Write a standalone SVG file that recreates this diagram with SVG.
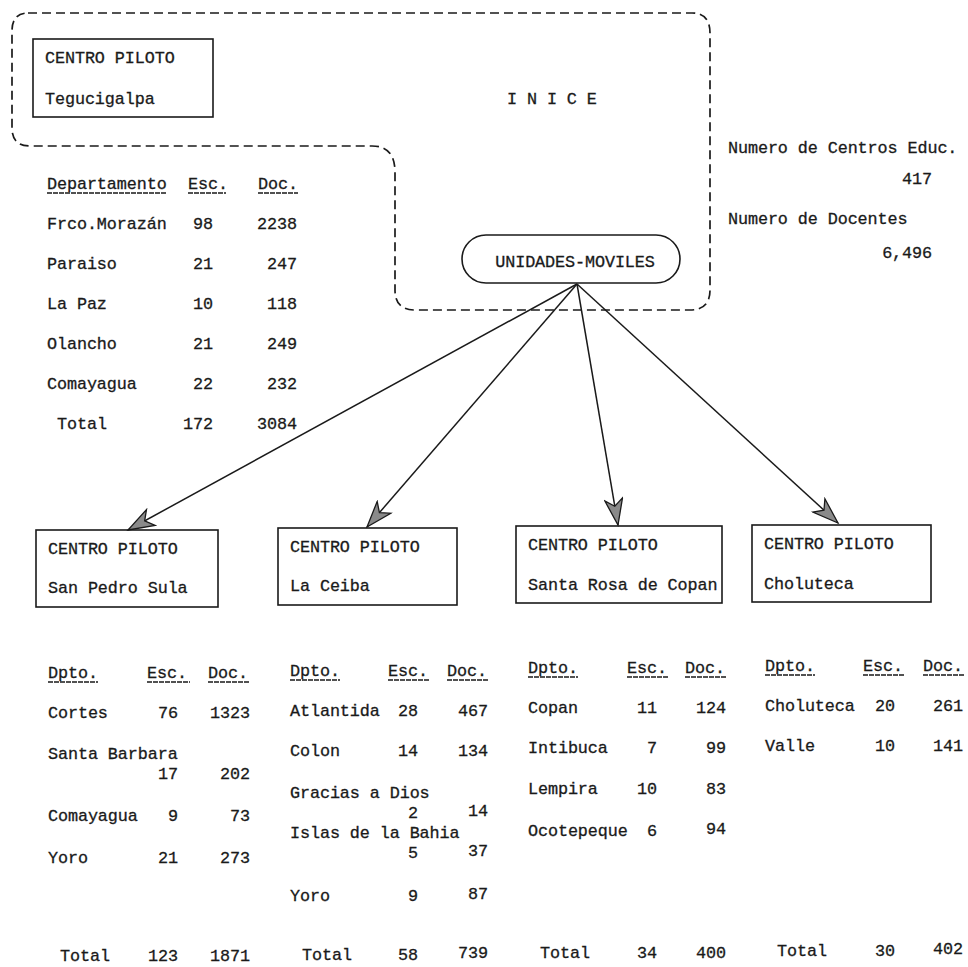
<svg xmlns="http://www.w3.org/2000/svg" width="968" height="967" viewBox="0 0 968 967">
<defs>
<style>
text{font-family:"Liberation Mono","DejaVu Sans Mono",monospace;font-size:16.8px;letter-spacing:-0.1px;fill:#1a1a1a;stroke:#1a1a1a;stroke-width:0.3}
.e{text-anchor:end}
.box{fill:none;stroke:#1a1a1a;stroke-width:1.6}
.dash{fill:none;stroke:#1a1a1a;stroke-width:1.7;stroke-dasharray:9 5}
.ul{stroke:#1a1a1a;stroke-width:1.3;stroke-dasharray:5 1}
.conn{stroke:#1a1a1a;stroke-width:1.5;fill:none}
</style>
<marker id="ah" viewBox="-28 -10 30 20" refX="0" refY="0" markerWidth="30" markerHeight="20" markerUnits="userSpaceOnUse" orient="auto">
<path d="M0,0 L-26,-9 L-19,0 L-26,9 Z" fill="#8a8a8a" stroke="#1a1a1a" stroke-width="1.3"/>
</marker>
</defs>
<rect width="968" height="967" fill="#ffffff"/>

<g id="inice">
<path class="dash" d="M28,13 L692,13 Q710,13 710,33 L710,290 Q710,310 690,310 L415,310 Q395,310 395,290 L395,172 Q395,146 372,146 L30,146 Q12,146 12,128 L12,31 Q12,13 28,13 Z"/>
<text x="507" y="104">I N I C E</text>
</g>

<g id="cp-tegucigalpa">
<rect class="box" x="33" y="39" width="180" height="78"/>
<text x="45" y="63">CENTRO PILOTO</text>
<text x="45" y="104">Tegucigalpa</text>
</g>

<g id="unidades-moviles">
<rect class="box" x="462" y="235" width="218" height="48" rx="24"/>
<text x="575" y="267" text-anchor="middle">UNIDADES-MOVILES</text>
</g>

<g id="totales">
<text x="728" y="153">Numero de Centros Educ.</text>
<text class="e" x="932" y="184">417</text>
<text x="728" y="224">Numero de Docentes</text>
<text class="e" x="932" y="258">6,496</text>
</g>

<g id="tabla-tegucigalpa">
<text x="47" y="189">Departamento</text>
<text x="188" y="189">Esc.</text>
<text x="258" y="189">Doc.</text>
<line class="ul" x1="47" y1="193" x2="167" y2="193"/>
<line class="ul" x1="188" y1="193" x2="226" y2="193"/>
<line class="ul" x1="258" y1="193" x2="298" y2="193"/>
<text x="47" y="229">Frco.Morazán</text><text class="e" x="213" y="229">98</text><text class="e" x="297" y="229">2238</text>
<text x="47" y="269">Paraiso</text><text class="e" x="213" y="269">21</text><text class="e" x="297" y="269">247</text>
<text x="47" y="309">La Paz</text><text class="e" x="213" y="309">10</text><text class="e" x="297" y="309">118</text>
<text x="47" y="349">Olancho</text><text class="e" x="213" y="349">21</text><text class="e" x="297" y="349">249</text>
<text x="47" y="389">Comayagua</text><text class="e" x="213" y="389">22</text><text class="e" x="297" y="389">232</text>
<text x="57" y="429">Total</text><text class="e" x="213" y="429">172</text><text class="e" x="297" y="429">3084</text>
</g>

<g id="connectors">
<line class="conn" x1="577" y1="284" x2="128" y2="530" marker-end="url(#ah)"/>
<line class="conn" x1="577" y1="284" x2="367" y2="527" marker-end="url(#ah)"/>
<line class="conn" x1="577" y1="284" x2="618" y2="525" marker-end="url(#ah)"/>
<line class="conn" x1="577" y1="284" x2="838" y2="523" marker-end="url(#ah)"/>
</g>

<g id="cp-san-pedro-sula">
<rect class="box" x="36" y="530" width="182" height="77"/>
<text x="48" y="554">CENTRO PILOTO</text>
<text x="48" y="593">San Pedro Sula</text>
</g>
<g id="cp-la-ceiba">
<rect class="box" x="278" y="528" width="179" height="77"/>
<text x="290" y="552">CENTRO PILOTO</text>
<text x="290" y="591">La Ceiba</text>
</g>
<g id="cp-santa-rosa">
<rect class="box" x="516" y="526" width="206" height="77"/>
<text x="528" y="550">CENTRO PILOTO</text>
<text x="528" y="590">Santa Rosa de Copan</text>
</g>
<g id="cp-choluteca">
<rect class="box" x="752" y="525" width="179" height="77"/>
<text x="764" y="549">CENTRO PILOTO</text>
<text x="764" y="589">Choluteca</text>
</g>

<g id="tabla-san-pedro">
<text x="48" y="678">Dpto.</text><text x="147" y="678">Esc.</text><text x="208" y="678">Doc.</text>
<line class="ul" x1="48" y1="682" x2="98" y2="682"/><line class="ul" x1="147" y1="682" x2="190" y2="682"/><line class="ul" x1="208" y1="682" x2="250" y2="682"/>
<text x="48" y="718">Cortes</text><text class="e" x="178" y="718">76</text><text class="e" x="250" y="718">1323</text>
<text x="48" y="759">Santa Barbara</text>
<text class="e" x="178" y="779">17</text><text class="e" x="250" y="779">202</text>
<text x="48" y="821">Comayagua</text><text class="e" x="178" y="821">9</text><text class="e" x="250" y="821">73</text>
<text x="48" y="863">Yoro</text><text class="e" x="178" y="863">21</text><text class="e" x="250" y="863">273</text>
<text x="60" y="961">Total</text><text class="e" x="178" y="961">123</text><text class="e" x="250" y="961">1871</text>
</g>

<g id="tabla-la-ceiba">
<text x="290" y="676">Dpto.</text><text x="388" y="676">Esc.</text><text x="447" y="676">Doc.</text>
<line class="ul" x1="290" y1="680" x2="340" y2="680"/><line class="ul" x1="388" y1="680" x2="429" y2="680"/><line class="ul" x1="447" y1="680" x2="489" y2="680"/>
<text x="290" y="716">Atlantida</text><text class="e" x="418" y="716">28</text><text class="e" x="488" y="716">467</text>
<text x="290" y="756">Colon</text><text class="e" x="418" y="756">14</text><text class="e" x="488" y="756">134</text>
<text x="290" y="798">Gracias a Dios</text>
<text class="e" x="418" y="818">2</text><text class="e" x="488" y="816">14</text>
<text x="290" y="838">Islas de la Bahia</text>
<text class="e" x="418" y="858">5</text><text class="e" x="488" y="856">37</text>
<text x="290" y="901">Yoro</text><text class="e" x="418" y="901">9</text><text class="e" x="488" y="899">87</text>
<text x="302" y="960">Total</text><text class="e" x="418" y="960">58</text><text class="e" x="488" y="958">739</text>
</g>

<g id="tabla-santa-rosa">
<text x="528" y="673">Dpto.</text><text x="627" y="673">Esc.</text><text x="685" y="673">Doc.</text>
<line class="ul" x1="528" y1="677" x2="578" y2="677"/><line class="ul" x1="627" y1="677" x2="668" y2="677"/><line class="ul" x1="685" y1="677" x2="726" y2="677"/>
<text x="528" y="713">Copan</text><text class="e" x="657" y="713">11</text><text class="e" x="726" y="713">124</text>
<text x="528" y="753">Intibuca</text><text class="e" x="657" y="753">7</text><text class="e" x="726" y="753">99</text>
<text x="528" y="794">Lempira</text><text class="e" x="657" y="794">10</text><text class="e" x="726" y="794">83</text>
<text x="528" y="836">Ocotepeque</text><text class="e" x="657" y="836">6</text><text class="e" x="726" y="834">94</text>
<text x="540" y="958">Total</text><text class="e" x="657" y="958">34</text><text class="e" x="726" y="958">400</text>
</g>

<g id="tabla-choluteca">
<text x="765" y="671">Dpto.</text><text x="863" y="671">Esc.</text><text x="923" y="671">Doc.</text>
<line class="ul" x1="765" y1="675" x2="815" y2="675"/><line class="ul" x1="863" y1="675" x2="905" y2="675"/><line class="ul" x1="923" y1="675" x2="964" y2="675"/>
<text x="765" y="711">Choluteca</text><text class="e" x="895" y="711">20</text><text class="e" x="963" y="711">261</text>
<text x="765" y="751">Valle</text><text class="e" x="895" y="751">10</text><text class="e" x="963" y="751">141</text>
<text x="777" y="956">Total</text><text class="e" x="895" y="956">30</text><text class="e" x="963" y="954">402</text>
</g>
</svg>
